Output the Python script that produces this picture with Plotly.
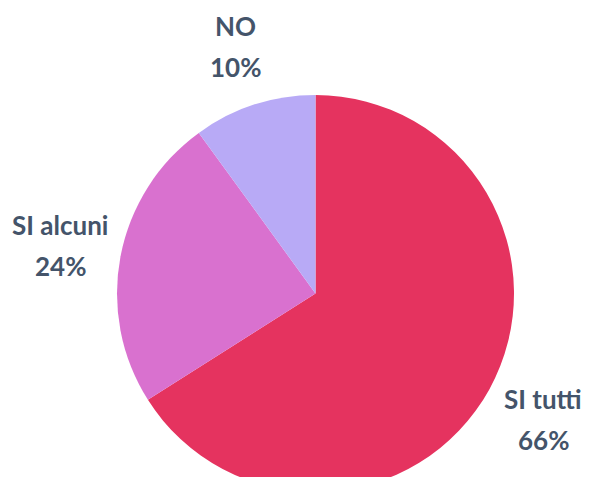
import math
import plotly.graph_objects as go

labels = ["SI tutti", "SI alcuni", "NO"]
values = [66, 24, 10]
colors = ["#E5335F", "#D971CF", "#B8AAF6"]

W, H = 589, 600
cx, cy, R = 315.5, 293.5, 198.5
label_r = 260.0
font = dict(family="Lato, 'Open Sans', sans-serif", size=26, color="#44546A")

fig = go.Figure(go.Pie(
    labels=labels, values=values, sort=False, direction="clockwise", rotation=0,
    marker=dict(colors=colors, line=dict(width=0)),
    textinfo="none", hoverinfo="label+percent", showlegend=False,
    domain=dict(x=[(cx - R) / W, (cx + R) / W], y=[1 - (cy + R) / H, 1 - (cy - R) / H]),
))

total = sum(values)
cum = 0
annotations = []
for lab, v in zip(labels, values):
    mid = (cum + v / 2) / total * 2 * math.pi
    cum += v
    px = cx + label_r * math.sin(mid)
    py = cy - label_r * math.cos(mid)
    pct = f"{round(v / total * 100)}%"
    for txt, off in ((f"<b>{lab}</b>", -20), (f"<b>{pct}</b>", 21)):
        annotations.append(dict(
            x=px / W, y=1 - (py + off) / H, xref="paper", yref="paper",
            text=txt, showarrow=False, font=font, xanchor="center", yanchor="middle",
        ))

fig.update_layout(
    width=W, height=H, margin=dict(l=0, r=0, t=0, b=0),
    paper_bgcolor="white", plot_bgcolor="white", annotations=annotations,
)

fig.write_html(
    "out.html",
    post_script="document.documentElement.style.overflow='hidden';document.body.style.overflow='hidden';document.body.style.margin='0';",
)
